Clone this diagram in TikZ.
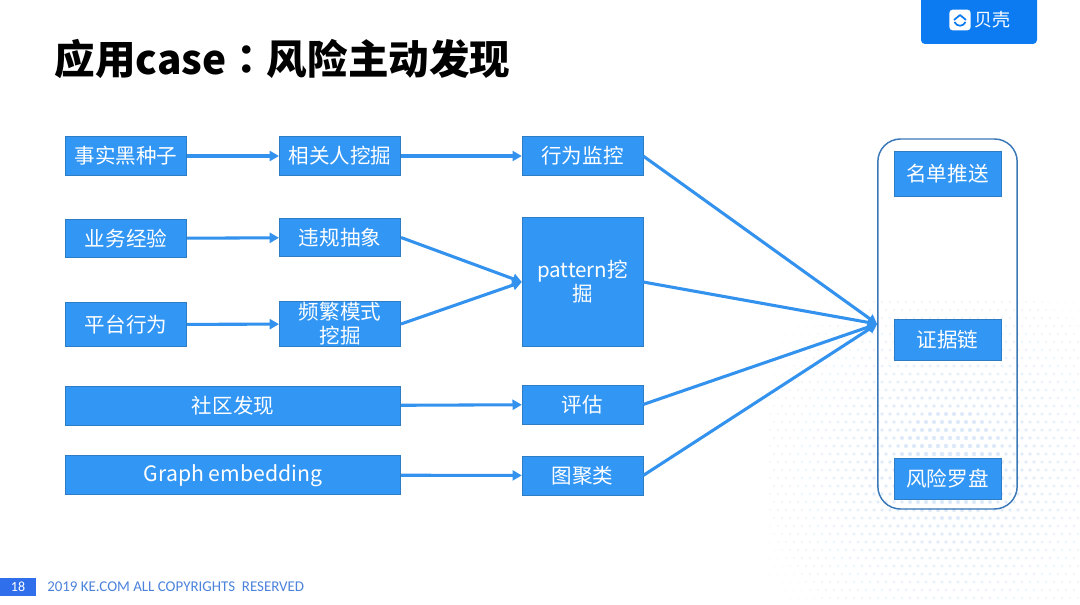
\documentclass[tikz,border=0pt]{standalone}
\usepackage{fontspec}
\setmainfont{Noto Sans CJK SC}
\newfontfamily\footfont{Carlito}
\newfontfamily\colonfont{Noto Sans CJK TC}
\usetikzlibrary{arrows.meta}
\definecolor{boxblue}{HTML}{3296F5}
\definecolor{edgeblue}{HTML}{2E7CC4}
\definecolor{arrowblue}{HTML}{3392EE}
\definecolor{groupblue}{HTML}{3A78B8}
\definecolor{logoblue}{HTML}{0C7BF2}
\definecolor{pageblue}{HTML}{2F6FEB}
\definecolor{footblue}{HTML}{4C82DC}
\definecolor{dotblue}{HTML}{DCE9F9}
\tikzset{
	flowbox/.style={draw=edgeblue, fill=boxblue, text=white, line width=0.5pt, inner sep=0pt,
		align=center, font=\fontsize{15.4}{18}\selectfont},
	flowline/.style={draw=arrowblue, line width=2.3pt, -{Triangle[length=7pt,width=7.5pt]}},
}
\begin{document}
\begin{tikzpicture}[x=0.75pt,y=-0.75pt]
	\useasboundingbox[fill=white] (0,0) rectangle (1080,605);

	% dots in the corner
	\begin{scope}
		\clip (760,300) rectangle (1080,605);
		\foreach \i in {0,...,40} {
			\foreach \j in {0,...,38} {
				\pgfmathsetmacro{\dotx}{770+8*\i+4*mod(\j,2)}
				\pgfmathsetmacro{\doty}{302+8*\j}
				\pgfmathsetmacro{\dotk}{max(0,1-veclen(\dotx-950,\doty-465)/215)}
				\ifdim\dotk pt>0.02pt
					\pgfmathsetmacro{\dotp}{min(100,22+100*\dotk)}
					\pgfmathsetmacro{\dotr}{0.8+1.6*\dotk}
					\fill[dotblue!\dotp!white] (\dotx,\doty) circle[radius=\dotr];
				\fi
			}
		}
	\end{scope}

	% title and logo
	\node[anchor=west, font=\fontsize{30.4}{36}\selectfont\bfseries] (title) at (50,59) {应用case{\colonfont：}风险主动发现};
	\fill[logoblue, rounded corners=3pt] (921,-8) rectangle (1037,44);
	\node[fill=white, rounded corners=2.5pt, minimum width=16pt, minimum height=15.5pt, inner sep=0pt] (icon) at (960,20) {};
	\draw[logoblue, line width=1.3pt, line join=round] (954,20) -- (960,15) -- (966,20);
	\draw[logoblue, line width=1.3pt] (954.5,22) .. controls (957,27) and (963,27) .. (965.5,22);
	\node[text=white, anchor=west, inner sep=0pt, font=\fontsize{13.5}{16}\selectfont] (brand) at (974,20) {贝壳};

	% left columns
	\node[flowbox, minimum width=91pt, minimum height=29.5pt] (seed) at (126,156) {事实黑种子};
	\node[flowbox, minimum width=91pt, minimum height=29.5pt] (people) at (340,156) {相关人挖掘};
	\node[flowbox, minimum width=90.5pt, minimum height=29.5pt] (monitor) at (582.5,156) {行为监控};
	\node[flowbox, minimum width=91pt, minimum height=29pt] (exp) at (126,238.5) {业务经验};
	\node[flowbox, minimum width=91pt, minimum height=29pt] (rule) at (340,237.5) {违规抽象};
	\node[flowbox, minimum width=91pt, minimum height=33.5pt] (platform) at (126,324.5) {平台行为};
	\node[flowbox, minimum width=91pt, minimum height=34pt] (freq) at (340,324) {频繁模式\\挖掘};
	\node[flowbox, minimum width=90.5pt, minimum height=97pt] (pattern) at (582.5,282) {pattern挖\\掘};
	\node[flowbox, minimum width=251.5pt, minimum height=29.5pt] (community) at (233,406) {社区发现};
	\node[flowbox, minimum width=90.5pt, minimum height=29pt] (eval) at (582.5,404.5) {评估};
	\node[flowbox, minimum width=251.5pt, minimum height=29.5pt] (embed) at (233,475) {\fontsize{15.9}{18}\selectfont\raisebox{-4.8pt}[0pt][0pt]{Graph embedding}};
	\node[flowbox, minimum width=90.5pt, minimum height=29pt] (cluster) at (582.5,475.5) {图聚类};

	% right group
	\node[draw=groupblue, line width=1.1pt, rounded corners=17pt, minimum width=104.5pt, minimum height=277.5pt, inner sep=0pt] (group) at (947.5,324) {};
	\node[flowbox, minimum width=80pt, minimum height=34pt] (push) at (947.5,174) {名单推送};
	\node[flowbox, minimum width=80pt, minimum height=31pt] (proof) at (947.5,340) {证据链};
	\node[flowbox, minimum width=80pt, minimum height=31pt] (compass) at (947.5,479) {风险罗盘};

	\draw[flowline] (seed) -- (people);
	\draw[flowline] (people) -- (monitor);
	\draw[flowline] (exp) -- (rule);
	\draw[flowline] (platform) -- (freq);
	\draw[flowline] (rule.east) -- (pattern.west);
	\draw[flowline] (freq.east) -- (pattern.west);
	\draw[flowline] (community) -- (eval);
	\draw[flowline] (embed) -- (cluster);
	\draw[flowline] (monitor.east) -- (group.west);
	\draw[flowline] (pattern.east) -- (group.west);
	\draw[flowline] (eval.east) -- (group.west);
	\draw[flowline] (cluster.east) -- (group.west);

	% footer
	\node[fill=pageblue, text=white, minimum width=27pt, minimum height=14pt, inner sep=0pt, font=\footfont\fontsize{10.5}{12}\selectfont] (page) at (18,587) {18};
	\node[anchor=west, text=footblue, inner sep=0pt, font=\footfont\fontsize{11.2}{12}\selectfont] (copy) at (47,587) {2019 KE.COM ALL COPYRIGHTS\ \ RESERVED};
\end{tikzpicture}
\end{document}
